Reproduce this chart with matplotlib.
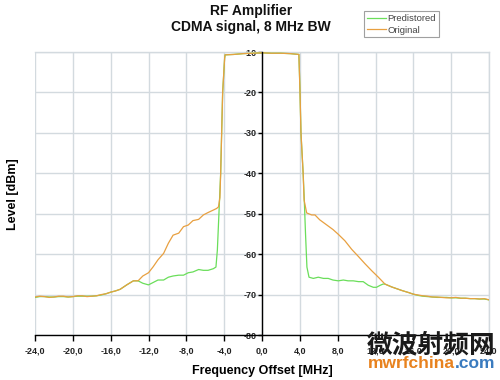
import matplotlib
matplotlib.use("Agg")
import matplotlib.pyplot as plt
from matplotlib.ticker import FixedLocator

plt.rcParams['font.family'] = ['Liberation Sans', 'DejaVu Sans']

# ---- data ----
freq_orig = [-24, -23.5, -23, -22.5, -22, -21.5, -21, -20.5, -20, -19.5, -19, -18.5,
             -18, -17.5, -17, -16.5, -16, -15.5, -15,
             -14.3, -13.6, -13.1, -12.6, -12.0, -11.5, -11.0, -10.4, -9.9, -9.4,
             -8.8, -8.3, -7.8, -7.3, -6.7, -6.2, -5.7, -5.15, -4.8, -4.6, -4.45,
             -4.37, -4.16, -3.95, -3.9, -3.0, -2.0, -1.0, 0.0, 1.0, 2.0, 3.0, 3.9,
             4.02, 4.12, 4.35, 4.45, 4.72, 5.25, 5.6, 6.1, 6.8, 7.5, 8.07, 8.77,
             9.48, 10.2, 10.9, 11.6, 12.3, 13.0, 13.7, 14.8, 15.5, 16, 16.5, 17,
             17.5, 18, 18.5, 19, 19.5, 20, 20.5, 21, 21.5, 22, 22.5, 23, 23.5, 24]
level_orig = [-70.6, -70.4, -70.5, -70.7, -70.6, -70.4, -70.4, -70.6, -70.5, -70.3,
              -70.3, -70.5, -70.4, -70.3, -70.0, -69.8,
              -69.4, -69.1, -68.7, -67.6, -66.6, -66.6, -65.4, -64.6, -63.1, -61.4,
              -59.8, -57.3, -55.3, -54.8, -53.2, -52.8, -51.7, -51.4, -50.3, -49.7,
              -49.1, -48.7, -48.3, -46.0, -40.0, -20.0, -11.5, -10.7, -10.6, -10.4,
              -10.3, -10.2, -10.3, -10.3, -10.4, -10.6, -20.0, -30.0, -40.0, -46.6,
              -49.8, -50.3, -50.3, -51.5, -52.7, -53.9, -55.1, -56.7, -58.8, -60.6,
              -62.4, -64.1, -65.7, -67.4, -68.1, -69.0, -69.5, -69.9, -70.1, -70.3,
              -70.4, -70.6, -70.6, -70.7, -70.8, -70.8, -70.7, -70.9, -70.9, -71.0,
              -71.0, -71.1, -71.0, -71.3]

freq_pred = [-24, -23.5, -23, -22.5, -22, -21.5, -21, -20.5, -20, -19.5, -19, -18.5,
             -18, -17.5, -17, -16.5, -16, -15.5, -15,
             -14.3, -13.6, -13.1, -12.6, -12.0, -11.5, -11.0, -10.4, -9.9, -9.4,
             -8.8, -8.3, -7.8, -7.3, -6.7, -6.2, -5.7, -5.15, -4.87, -4.72, -4.55,
             -4.37, -4.16, -3.95, -3.9, -3.0, -2.0, -1.0, 0.0, 1.0, 2.0, 3.0, 3.9,
             4.02, 4.12, 4.35, 4.47, 4.6, 4.75, 4.97, 5.43, 5.95, 6.5, 7.0, 7.5,
             8.07, 8.6, 9.1, 9.65, 10.2, 10.7, 11.24, 11.77, 12.1, 12.5, 12.8,
             13.0, 13.7, 14.8, 15.5, 16, 16.5, 17, 17.5, 18, 18.5, 19, 19.5, 20,
             20.5, 21, 21.5, 22, 22.5, 23, 23.5, 24]
level_pred = [-70.7, -70.5, -70.5, -70.6, -70.6, -70.5, -70.5, -70.6, -70.5, -70.4,
              -70.4, -70.4, -70.4, -70.3, -70.1, -69.8,
              -69.4, -69.1, -68.7, -67.6, -66.6, -66.6, -67.2, -67.6, -67.0, -66.4,
              -66.4, -65.7, -65.4, -65.2, -65.2, -64.6, -64.4, -63.8, -64.0, -64.0,
              -63.6, -63.2, -59.0, -49.8, -40.0, -20.0, -11.5, -10.7, -10.6, -10.4,
              -10.3, -10.2, -10.3, -10.3, -10.4, -10.6, -20.0, -30.0, -40.0, -46.6,
              -54.9, -63.2, -65.7, -66.0, -65.7, -66.0, -66.0, -66.4, -66.6, -66.4,
              -66.6, -66.6, -66.8, -66.8, -67.7, -68.2, -68.2, -67.7, -67.4, -67.4,
              -68.1, -69.0, -69.5, -69.9, -70.2, -70.4, -70.5, -70.6, -70.7, -70.7,
              -70.7, -70.8, -70.8, -70.9, -70.9, -71.0, -71.0, -71.1, -71.1, -71.3]

x_ticks = [-24, -20, -16, -12, -8, -4, 0, 4, 8, 12, 16, 20, 24]
x_tick_labels = ["-24,0", "-20,0", "-16,0", "-12,0", "-8,0", "-4,0", "0,0",
                 "4,0", "8,0", "12,0", "16,0", "20,0", "24,0"]
y_ticks = [-80, -70, -60, -50, -40, -30, -20, -10]
y_tick_labels = ["-80", "-70", "-60", "-50", "-40", "-30", "-20", "-10"]

GREEN = "#6ade5a"
ORANGE = "#e8a040"
GRID = "#d3dadf"

fig = plt.figure(figsize=(5.0, 3.8), dpi=100)
ax = fig.add_axes([0.07, 0.1184, 0.908, 0.7447])

ax.plot(freq_pred, level_pred, color=GREEN, lw=0.9, label="Predistored", zorder=3)
ax.plot(freq_orig, level_orig, color=ORANGE, lw=0.9, label="Original", zorder=4)

ax.set_xlim(-24, 24)
ax.set_ylim(-80, -10)

ax.xaxis.set_major_locator(FixedLocator(x_ticks))
ax.set_xticklabels(x_tick_labels)
ax.yaxis.set_major_locator(FixedLocator(y_ticks))
ax.set_yticklabels(y_tick_labels)

ax.grid(True, color=GRID, lw=1.0, zorder=0)
ax.set_axisbelow(True)

ax.spines['left'].set_position(('data', 0))
ax.spines['left'].set_color('black')
ax.spines['left'].set_linewidth(1.0)
ax.spines['bottom'].set_color('black')
ax.spines['bottom'].set_linewidth(1.0)
for s in ('top', 'right'):
    ax.spines[s].set_color(GRID)
    ax.spines[s].set_linewidth(1.0)
ax.spines['left'].set_zorder(5)

ax.tick_params(axis='x', direction='out', length=4, width=1, colors='black',
               labelsize=6.5, pad=4)
ax.tick_params(axis='y', direction='out', length=3, width=1, colors='black',
               labelsize=6.5, pad=1)
for lab in ax.get_xticklabels() + ax.get_yticklabels():
    lab.set_fontweight('bold')
    lab.set_color('#222222')

ax.set_xlabel("Frequency Offset [MHz]", fontsize=9, fontweight='bold', labelpad=7)
fig.text(0.026, 0.49, "Level [dBm]", rotation=90, fontsize=9, fontweight='bold',
         ha='center', va='center')

fig.text(0.502, 0.972, "RF Amplifier", fontsize=10, fontweight='bold',
         ha='center', va='center', color='#111111')
fig.text(0.502, 0.928, "CDMA signal, 8 MHz BW", fontsize=10, fontweight='bold',
         ha='center', va='center', color='#111111')

leg = fig.legend(loc='upper left', bbox_to_anchor=(0.728, 0.97), fontsize=6.8,
                 frameon=True, fancybox=False, handlelength=2.0, handletextpad=0.2,
                 borderpad=0.3, labelspacing=0.25, borderaxespad=0)
leg.get_frame().set_edgecolor('#888888')
leg.get_frame().set_linewidth(0.8)
for t in leg.get_texts():
    t.set_color('#444444')

# watermark
fig.text(0.734, 0.092, "微波射频网", fontsize=18.5, fontweight='heavy', color='#1a1a1a',
         ha='left', va='center', family=['Noto Sans CJK SC', 'DejaVu Sans'], zorder=10)
t1 = fig.text(0.736, 0.043, "mwrfchina", fontsize=12.5, fontweight='bold',
              color='#e8821e', ha='left', va='center', zorder=10)
fig.canvas.draw()
bb = t1.get_window_extent()
x_end = bb.x1 / fig.bbox.width
fig.text(x_end, 0.043, ".com", fontsize=12.5, fontweight='bold', color='#3a7bbf',
         ha='left', va='center', zorder=10)

fig.savefig("out.png", dpi=100)
